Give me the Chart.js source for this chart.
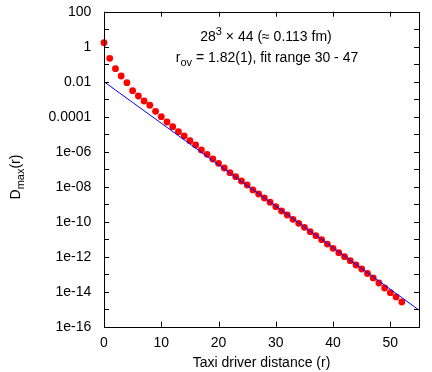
<!DOCTYPE html>
<html>
<head>
<meta charset="utf-8">
<script src="https://cdn.jsdelivr.net/npm/chart.js@4"></script>
<style>
  html, body { margin: 0; padding: 0; background: #fff; }
  #wrap { width: 432px; height: 372px; }
</style>
</head>
<body>
<div id="wrap"><canvas id="myChart" width="432" height="372"></canvas></div>
<script>
  // distances r and measured D_max(r)
  const distances = [0,1,2,3,4,5,6,7,8,9,10,11,12,13,14,15,16,17,18,19,20,21,22,23,24,25,26,
    27,28,29,30,31,32,33,34,35,36,37,38,39,40,41,42,43,44,45,46,47,48,49,50,51,52];
  const dmax = [1.69, 0.217, 5.53e-2, 2.12e-2, 8.8e-3, 3.06e-3, 1.52e-3, 7.9e-4, 4.5e-4, 2.04e-4,
    1.0e-4, 4.98e-5, 2.69e-5, 1.39e-5, 7.9e-6, 4.26e-6, 2.42e-6, 1.25e-6, 7.1e-7, 3.83e-7,
    2.17e-7, 1.17e-7, 6.3e-8, 3.72e-8, 2.12e-8, 1.25e-8, 6.5e-9, 3.83e-9, 2.26e-9, 1.29e-9,
    7.2e-10, 4.08e-10, 2.42e-10, 1.37e-10, 8.1e-11, 4.8e-11, 2.69e-11, 1.58e-11, 9.4e-12, 5.3e-12,
    3.0e-12, 1.69e-12, 1.0e-12, 5.9e-13, 3.36e-13, 1.98e-13, 1.1e-13, 6.1e-14, 3.14e-14, 1.63e-14,
    8.8e-15, 5.0e-15, 2.58e-15];

  // exponential fit, straight on the log axis
  const fitX = [0, 55];
  const fitY = [1.0e-2, 8.9e-16];

  const xTicks = [0, 10, 20, 30, 40, 50];
  const yTicks = [100, 1, 1e-2, 1e-4, 1e-6, 1e-8, 1e-10, 1e-12, 1e-14, 1e-16];
  const yTickLabels = ['100', '1', '0.01', '0.0001', '1e-06', '1e-08', '1e-10', '1e-12', '1e-14', '1e-16'];
  const yMinorTicks = [10, 0.1, 1e-3, 1e-5, 1e-7, 1e-9, 1e-11, 1e-13, 1e-15];

  const FONT = 'Liberation Sans, Arial, sans-serif';

  // draws text made of [string, 'n'|'sub'|'sup'] parts, centred on x
  function richText(c, parts, x, y, size) {
    const small = Math.round(size * 0.8);
    let w = 0;
    parts.forEach(p => {
      c.font = (p[1] === 'n' ? size : small) + 'px ' + FONT;
      w += c.measureText(p[0]).width;
    });
    let cx = x - w / 2;
    c.textAlign = 'left';
    c.textBaseline = 'alphabetic';
    parts.forEach(p => {
      c.font = (p[1] === 'n' ? size : small) + 'px ' + FONT;
      let dy = 0;
      if (p[1] === 'sub') dy = size * 0.3;
      if (p[1] === 'sup') dy = -size * 0.4;
      c.fillText(p[0], cx, y + dy);
      cx += c.measureText(p[0]).width;
    });
  }

  const framePlugin = {
    id: 'frame',
    afterDraw(chart) {
      const c = chart.ctx;
      const a = chart.chartArea;
      const xs = chart.scales.x, ys = chart.scales.y;
      c.save();
      c.strokeStyle = '#000';
      c.lineWidth = 1;
      c.strokeRect(Math.round(a.left) + 0.5, Math.round(a.top) + 0.5,
        Math.round(a.right - a.left), Math.round(a.bottom - a.top));
      c.beginPath();
      xTicks.forEach(v => {
        const px = Math.round(xs.getPixelForValue(v)) + 0.5;
        c.moveTo(px, a.bottom); c.lineTo(px, a.bottom - 5);
        c.moveTo(px, a.top); c.lineTo(px, a.top + 5);
      });
      yTicks.concat(yMinorTicks).forEach(v => {
        const py = Math.round(ys.getPixelForValue(v)) + 0.5;
        c.moveTo(a.left, py); c.lineTo(a.left + 5, py);
        c.moveTo(a.right, py); c.lineTo(a.right - 5, py);
      });
      c.stroke();

      c.fillStyle = '#000';
      richText(c, [['28', 'n'], ['3', 'sup'], [' \u00d7 44 (\u2248 0.113 fm)', 'n']], 266, 41, 14);
      richText(c, [['r', 'n'], ['ov', 'sub'], [' = 1.82(1), fit range 30 - 47', 'n']], 267, 62, 14);

      // axis titles
      c.font = '14px ' + FONT;
      c.textAlign = 'center';
      c.textBaseline = 'middle';
      c.fillText('Taxi driver distance (r)', (a.left + a.right) / 2, 363);
      c.translate(20, 177);
      c.rotate(-Math.PI / 2);
      richText(c, [['D', 'n'], ['max', 'sub'], ['(r)', 'n']], 0, 0, 14);
      c.restore();
    }
  };

  const ctx = document.getElementById('myChart');

  new Chart(ctx, {
    type: 'scatter',
    data: {
      datasets: [{
        type: 'line',
        label: 'fit',
        data: fitX.map((x, i) => ({ x: x, y: fitY[i] })),
        borderColor: '#0000ff',
        borderWidth: 1,
        pointRadius: 0,
        order: 0,
      }, {
        label: 'D_max',
        data: distances.map((x, i) => ({ x: x, y: dmax[i] })),
        backgroundColor: '#ff0000',
        borderWidth: 0,
        pointRadius: 3.4,
        clip: false,
        order: 1,
      }],
    },
    options: {
      responsive: false,
      animation: false,
      layout: { padding: { top: 11.7, right: 13, left: 0, bottom: 0 } },
      plugins: { legend: { display: false }, tooltip: { enabled: false } },
      scales: {
        x: {
          type: 'linear',
          min: 0,
          max: 55,
          grid: { display: false, drawTicks: true, tickLength: 6 },
          border: { display: false },
          afterBuildTicks: s => { s.ticks = xTicks.map(v => ({ value: v })); },
          afterFit: s => { s.height = 45.3; },
          ticks: {
            padding: 2,
            color: '#000',
            maxRotation: 0,
            font: { family: FONT, size: 14 },
          },
        },
        y: {
          type: 'logarithmic',
          min: 1e-16,
          max: 100,
          grid: { display: false, drawTicks: true, tickLength: 10 },
          border: { display: false },
          afterBuildTicks: s => { s.ticks = yTicks.map(v => ({ value: v })); },
          afterFit: s => { s.width = 104; },
          ticks: {
            padding: 2.7,
            color: '#000',
            autoSkip: false,
            font: { family: FONT, size: 14 },
            callback: (v) => yTickLabels[yTicks.indexOf(v)],
          },
        },
      },
    },
    plugins: [framePlugin],
  });
</script>
</body>
</html>
